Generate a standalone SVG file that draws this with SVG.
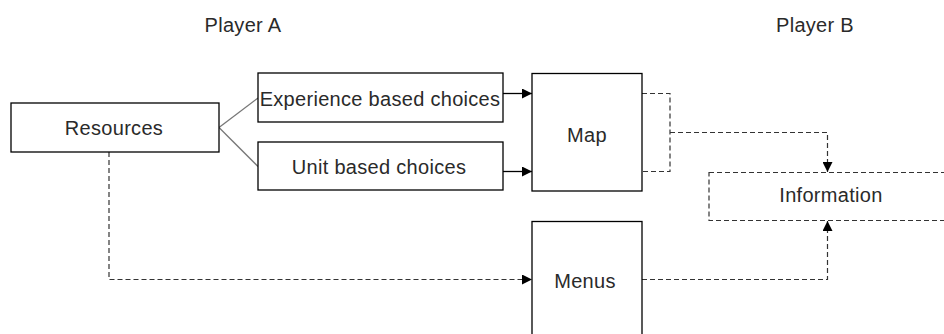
<svg xmlns="http://www.w3.org/2000/svg" width="944" height="334" viewBox="0 0 944 334">
  <style>
    .box { fill: #fff; stroke: #000; stroke-width: 1.3; }
    .dbox { fill: #fff; stroke: #333; stroke-width: 1.2; stroke-dasharray: 5 3; }
    .lbl { font-family: "Liberation Sans", Arial, sans-serif; font-size: 20px; fill: #2a2a2a; text-anchor: middle; letter-spacing: 0.3px; }
    .solid { fill: none; stroke: #000; stroke-width: 1.3; }
    .dash { fill: none; stroke: #333; stroke-width: 1.2; stroke-dasharray: 5 3; }
    .thin { fill: none; stroke: #777; stroke-width: 1.3; }
  </style>
  <defs>
    <marker id="arrow" viewBox="0 0 10 10" refX="10" refY="5" markerWidth="10" markerHeight="10" markerUnits="userSpaceOnUse" orient="auto">
      <path d="M0,0 L10,5 L0,10 z" fill="#000"/>
    </marker>
  </defs>
  <rect width="944" height="334" fill="#fff"/>

  <g id="player-a"><text class="lbl" x="243" y="32">Player A</text></g>
  <g id="player-b"><text class="lbl" x="815" y="32">Player B</text></g>

  <g id="connectors">
    <line class="thin" x1="219" y1="127.5" x2="258" y2="98"/>
    <line class="thin" x1="219" y1="127.5" x2="258" y2="166.5"/>
    <line class="solid" x1="503" y1="93.5" x2="532" y2="93.5" marker-end="url(#arrow)"/>
    <line class="solid" x1="503" y1="171.5" x2="532" y2="171.5" marker-end="url(#arrow)"/>
    <polyline class="dash" points="642,93.5 670,93.5 670,171.5 642,171.5"/>
    <polyline class="dash" points="670,132.5 827.5,132.5 827.5,172" marker-end="url(#arrow)"/>
    <polyline class="dash" points="109,152 109,279.5 532,279.5" marker-end="url(#arrow)"/>
    <polyline class="dash" points="642,279.5 827.5,279.5 827.5,221" marker-end="url(#arrow)"/>
  </g>

  <g id="resources">
    <rect class="box" x="11" y="103" width="208" height="49"/>
    <text class="lbl" x="114" y="135">Resources</text>
  </g>
  <g id="experience">
    <rect class="box" x="258" y="73" width="245" height="49"/>
    <text class="lbl" x="380" y="105.5">Experience based choices</text>
  </g>
  <g id="unit">
    <rect class="box" x="258" y="142" width="245" height="48"/>
    <text class="lbl" x="379" y="174">Unit based choices</text>
  </g>
  <g id="map">
    <rect class="box" x="532" y="73.5" width="110" height="117.5"/>
    <text class="lbl" x="587" y="141.5">Map</text>
  </g>
  <g id="information">
    <rect class="dbox" x="709" y="172.5" width="250" height="48"/>
    <text class="lbl" x="831" y="202">Information</text>
  </g>
  <g id="menus">
    <rect class="box" x="532" y="221.5" width="110" height="130"/>
    <text class="lbl" x="585" y="288">Menus</text>
  </g>
</svg>
